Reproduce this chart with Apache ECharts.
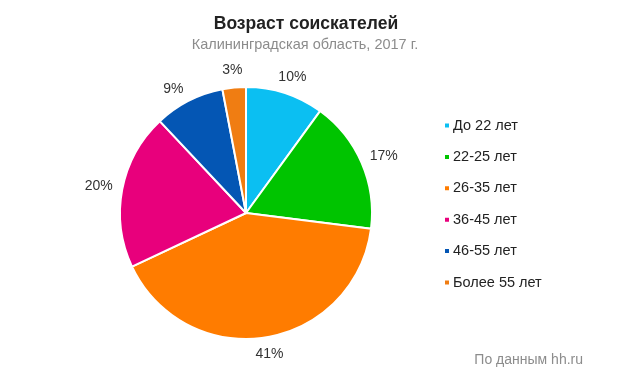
<!DOCTYPE html>
<html>
<head>
<meta charset="utf-8">
<script src="https://cdn.jsdelivr.net/npm/echarts@6/dist/echarts.min.js"></script>
<style>
  html, body { margin: 0; padding: 0; background: #fff; }
  #chart { width: 620px; height: 378px; }
</style>
</head>
<body>
<div id="chart"></div>
<script>
// Возрастные группы соискателей
const categories = ['До 22 лет', '22-25 лет', '26-35 лет', '36-45 лет', '46-55 лет', 'Более 55 лет'];
const shares = [10, 17, 41, 20, 9, 3];
const colors = ['#0bbff2', '#00c400', '#ff7c00', '#e8007c', '#0456b4', '#f07d12'];

const chart = echarts.init(document.getElementById('chart'));
chart.setOption({
  animation: false,
  textStyle: { fontFamily: 'Liberation Sans, Arial, sans-serif' },
  title: [
    {
      text: 'Возраст соискателей',
      left: 301, top: 10, textAlign: 'center',
      textStyle: { fontSize: 17.5, fontWeight: 'bold', color: '#222' }
    },
    {
      text: 'Калининградская область, 2017 г.',
      left: 300, top: 32, textAlign: 'center',
      textStyle: { fontSize: 14.5, fontWeight: 'normal', color: '#8c8c8c' }
    },
    {
      text: 'По данным hh.ru',
      right: 32, top: 348,
      textStyle: { fontSize: 14, fontWeight: 'normal', color: '#8c8c8c' }
    }
  ],
  legend: {
    orient: 'vertical',
    left: 438, top: 113,
    itemWidth: 6, itemHeight: 6, itemGap: 16.4,
    icon: 'rect',
    textStyle: { fontSize: 14.5, color: '#222', padding: [0, 0, 0, -2] },
    data: categories
  },
  series: [{
    type: 'pie',
    center: [246, 213],
    radius: 126,
    startAngle: 90,
    clockwise: true,
    color: colors,
    itemStyle: { borderColor: '#fff', borderWidth: 2 },
    label: {
      show: true,
      position: 'outside',
      formatter: '{c}%',
      fontSize: 14,
      color: '#333',
      distanceToLabelLine: 0
    },
    // линия невидима, нужна только чтобы знать направление подписи
    labelLine: { show: true, length: 10, length2: 0, lineStyle: { opacity: 0 } },
    // подпись отодвигается от круга как в Excel: по направлению сектора
    labelLayout: function (params) {
      const pts = params.labelLinePoints;
      if (!pts || pts.length < 2) return {};
      const vx = pts[1][0] - pts[0][0];
      const vy = pts[1][1] - pts[0][1];
      const len = Math.sqrt(vx * vx + vy * vy) || 1;
      const ux = vx / len, uy = vy / len;
      const w = params.labelRect.width, h = params.labelRect.height;
      const side = ux < 0 ? -1 : 1;
      return { dx: w / 2 * (ux - side), dy: uy * h / 2 };
    },
    data: categories.map((name, i) => ({ name: name, value: shares[i] }))
  }]
});
</script>
</body>
</html>
